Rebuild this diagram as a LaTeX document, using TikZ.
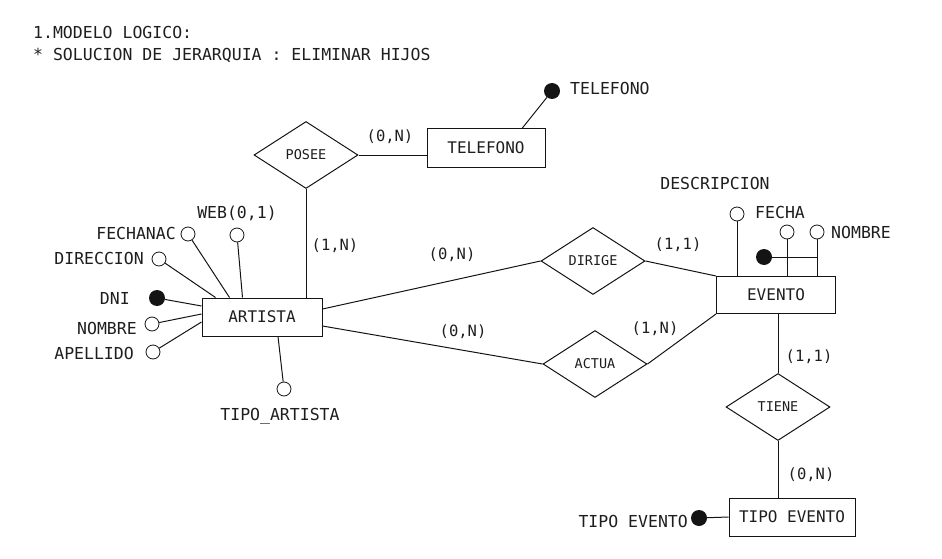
\documentclass[tikz,border=0pt]{standalone}
\usepackage{fontspec}
\setmainfont{DejaVu Sans Mono}
\usepackage{xcolor}
\usetikzlibrary{calc,shapes.geometric}
\definecolor{erLine}{RGB}{20,20,20}
\definecolor{erText}{RGB}{30,30,30}

\begin{document}
\begin{tikzpicture}[x=1pt,y=-1pt,
    every node/.style={text=erText},
    ent/.style={draw=erLine, line width=1pt, minimum height=38pt, inner sep=2pt, font=\fontsize{16}{18}\selectfont},
    rel/.style={diamond, draw=erLine, line width=1pt, minimum width=104pt, minimum height=67pt, inner sep=0pt, font=\fontsize{13.5}{15}\selectfont},
    attr/.style={circle, draw=erLine, line width=0.8pt, minimum size=14pt, inner sep=0pt},
    keyattr/.style={circle, fill=erLine, minimum size=16pt, inner sep=0pt},
    lbl/.style={inner sep=0pt, font=\fontsize{16.5}{18}\selectfont},
    card/.style={inner sep=0pt, font=\fontsize{15.5}{17}\selectfont},
    conn/.style={draw=erLine, line width=1pt}]
    \useasboundingbox (0,0) rectangle (942,559);

    \node[lbl, anchor=west] (titulo) at (33,32) {1.MODELO LOGICO:};
    \node[lbl, anchor=west] (subtitulo) at (33,55) {* SOLUCION DE JERARQUIA : ELIMINAR HIJOS};

    % entidades y relaciones
    \node[ent, minimum width=120pt] (artista) at (262,317) {ARTISTA};
    \node[ent, minimum width=118pt] (telefono) at (486,148) {TELEFONO};
    \node[ent, minimum width=119pt, minimum height=37pt] (evento) at (776,295) {EVENTO};
    \node[ent, minimum width=126pt] (tipoev) at (792,517) {TIPO EVENTO};
    \node[rel] (posee) at (306,155) {POSEE};
    \node[rel] (dirige) at (593,261) {DIRIGE};
    \node[rel] (actua) at (595,364) {ACTUA};
    \node[rel] (tiene) at (778,407) {TIENE};

    % atributos de ARTISTA
    \node[keyattr] (artDni) at (157,298) {};
    \node[attr] (artNom) at (152,324) {};
    \node[attr] (artApe) at (153,352) {};
    \node[attr] (artDir) at (159,259) {};
    \node[attr] (artFec) at (188,234) {};
    \node[attr] (artWeb) at (237,235) {};
    \node[attr] (artTipo) at (284,389) {};
    \node[lbl, anchor=east] (lDni) at (130,298) {DNI};
    \node[lbl, anchor=east] (lNom) at (137,328) {NOMBRE};
    \node[lbl, anchor=east] (lApe) at (134,353) {APELLIDO};
    \node[lbl, anchor=east] (lDir) at (144,258) {DIRECCION};
    \node[lbl, anchor=east] (lFec) at (176,233) {FECHANAC};
    \node[lbl] (lWeb) at (237,213) {WEB(0,1)};
    \node[lbl] (lTipo) at (280,416) {TIPO\_ARTISTA};

    \draw[conn] (artDni) -- ([yshift=11pt]artista.west);
    \draw[conn] (artNom) -- ([yshift=3pt]artista.west);
    \draw[conn] (artApe) -- ([yshift=-5pt]artista.west);
    \draw[conn] (artDir) -- ([xshift=14pt]artista.north west);
    \draw[conn] (artFec) -- ([xshift=28pt]artista.north west);
    \draw[conn] (artWeb) -- ([xshift=41pt]artista.north west);
    \draw[conn] (artTipo) -- ([xshift=16pt]artista.south);

    % atributos de TELEFONO
    \node[keyattr] (telNum) at (552,91) {};
    \node[lbl, anchor=west] (lTel) at (570,88) {TELEFONO};
    \draw[conn] (telNum) -- ([xshift=36pt]telefono.north);

    % atributos de EVENTO
    \node[attr] (evDesc) at (737,214) {};
    \node[attr] (evFec) at (787,232) {};
    \node[attr] (evNom) at (817,232) {};
    \node[keyattr] (evKey) at (764,257) {};
    \node[lbl] (lDesc) at (715,183) {DESCRIPCION};
    \node[lbl, anchor=west] (lFecha) at (755,212) {FECHA};
    \node[lbl, anchor=west] (lNombre) at (831,232) {NOMBRE};
    \draw[conn] (evDesc) -- (evDesc |- evento.north);
    \draw[conn] (evFec) -- (evFec |- evento.north);
    \draw[conn] (evNom) -- (evNom |- evento.north);
    \draw[conn] (evKey) -- (evKey -| evNom);

    % atributos de TIPO EVENTO
    \node[keyattr] (tipoKey) at (699,518) {};
    \node[lbl, anchor=east] (lTipoEv) at (688,521) {TIPO EVENTO};
    \draw[conn] (tipoKey) -- (tipoev.west);

    % relaciones
    \draw[conn] (posee.south) -- (posee.south |- artista.north);
    \draw[conn] (posee.east) -- (posee.east -| telefono.west);
    \draw[conn] ([yshift=8pt]artista.east) -- (dirige.west);
    \draw[conn] ([yshift=-9pt]artista.east) -- (actua.west);
    \draw[conn] (dirige.east) -- (evento.north west);
    \draw[conn] (actua.east) -- (evento.south west);
    \draw[conn] (evento.south -| tiene.north) -- (tiene.north);
    \draw[conn] (tiene.south) -- (tiene.south |- tipoev.north);

    % cardinalidades
    \node[card] (cPosArt) at (335,246) {(1,N)};
    \node[card] (cPosTel) at (390,137) {(0,N)};
    \node[card] (cDirArt) at (452,255) {(0,N)};
    \node[card] (cDirEv) at (678,245) {(1,1)};
    \node[card] (cActArt) at (463,332) {(0,N)};
    \node[card] (cActEv) at (655,329) {(1,N)};
    \node[card] (cTieEv) at (809,357) {(1,1)};
    \node[card] (cTieTip) at (811,475) {(0,N)};
\end{tikzpicture}
\end{document}
